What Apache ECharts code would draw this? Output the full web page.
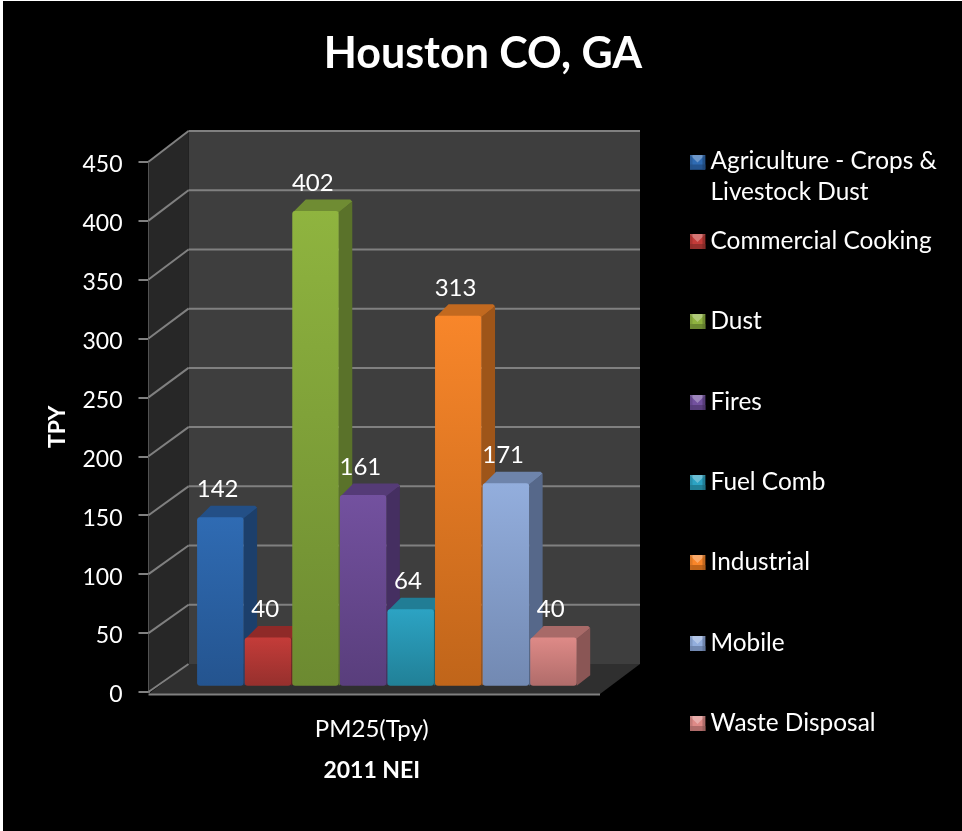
<!DOCTYPE html>
<html><head><meta charset="utf-8">
<script src="https://cdn.jsdelivr.net/npm/echarts@6/dist/echarts.min.js"></script>
<style>
html,body{margin:0;padding:0;background:#fff;width:962px;height:831px;overflow:hidden}
#bg{position:absolute;left:3px;top:1px;right:0;bottom:0;background:#000}
#c{position:absolute;left:0;top:0;width:962px;height:831px}
</style></head><body><div id="bg"></div><div id="c"></div>
<script>
const titleText = 'Houston CO, GA';
const categories = ['PM25(Tpy)'];
const seriesNames = ['Agriculture - Crops & Livestock Dust','Commercial Cooking','Dust','Fires','Fuel Comb','Industrial','Mobile','Waste Disposal'];
const seriesValues = [142,40,402,161,64,313,171,40];
const legendLabels = ['Agriculture - Crops &\nLivestock Dust','Commercial Cooking','Dust','Fires','Fuel Comb','Industrial','Mobile','Waste Disposal'];
const legendTops = [146,226,306,387,467,547,628,708];
// [front top, front bottom, top face, side face]
const barColors = [
 ['#2f6bb3','#24548f','#234f86','#1c3f6b'],
 ['#c43c39','#96302d','#8f2a28','#742422'],
 ['#8fb43f','#6c8a31','#6f8c33','#5a722a'],
 ['#73519f','#593e7c','#553b77','#452f61'],
 ['#2ca3c3','#218097','#217d95','#1b6578'],
 ['#f8862a','#c0651a','#c2691f','#9e5519'],
 ['#93aedd','#7289b2','#6e84ab','#56688a'],
 ['#de8a87','#b06c6a','#a86a68','#8a5655']
];
const FONT = 'Lato';
const DX = 13.5, DY = 11.5, BASE_DX = 13.2, BASE_DY = 6.3, BAR_PITCH = 0.1054, BAR_W = 46.5;
const WALL_DX = 40, WALL_DY0 = 28, WALL_DY1 = 30.7;
const yTicks = [0,50,100,150,200,250,300,350,400,450];

function legendIcon(c, tall){
  const h = tall ? 45 : 15;
  const svg = `<svg xmlns="http://www.w3.org/2000/svg" width="16" height="${h}"><rect x="0" y="0" width="16" height="15" fill="${c[0]}"/><polygon points="0,15 16,15 16,10 0,10" fill="${c[1]}"/><polygon points="0,0 16,0 8,8" fill="#ffffff" opacity="0.3"/><polygon points="0,0 3,0 3,15 0,15" fill="${c[2]}" opacity="0.5"/><polygon points="13,0 16,0 16,15 13,15" fill="${c[3]}" opacity="0.6"/></svg>`;
  return 'image://data:image/svg+xml;charset=utf-8,' + encodeURIComponent(svg);
}

function renderWalls(params, api){
  const cs = params.coordSys, max = 450;
  const children = [];
  const L = cs.x, R = cs.x + cs.width, T = cs.y, B = cs.y + cs.height;
  children.push({type:'polygon',shape:{points:[[L+WALL_DX,T-WALL_DY1],[R+WALL_DX,T-WALL_DY1],[R+WALL_DX,B-WALL_DY0],[L+WALL_DX,B-WALL_DY0]]},style:{fill:'#3e3e3e'}});
  children.push({type:'polygon',shape:{points:[[L,T],[L+WALL_DX,T-WALL_DY1],[L+WALL_DX,B-WALL_DY0],[L,B]]},style:{fill:'#272727'}});
  children.push({type:'polygon',shape:{points:[[L,B+2],[L+WALL_DX,B-WALL_DY0],[R+WALL_DX,B-WALL_DY0],[R,B+2]]},style:{fill:'#2f2f2f'}});
  yTicks.forEach(v=>{
    const y = api.coord([0,v])[1];
    const dy = WALL_DY0 + (WALL_DY1-WALL_DY0)*v/max;
    const st = {stroke:'#808080',lineWidth:2,fill:null};
    children.push({type:'polyline',shape:{points:[[L,y],[L+WALL_DX,y-dy]]},style:st});
    if(v>0) children.push({type:'line',shape:{x1:L+WALL_DX,y1:y-dy,x2:R+WALL_DX,y2:y-dy},style:st});
  });
  children.push({type:'line',shape:{x1:L,y1:B+2.5,x2:R,y2:B+2.5},style:{stroke:'#808080',lineWidth:2}});
  return {type:'group',children};
}

function barRenderer(i){
  return function(params, api){
    const c = barColors[i];
    const band = api.size([1,0])[0];
    const cx = api.coord([0,0])[0];
    const y0 = api.coord([0,0])[1] - BASE_DY;
    const yt = api.coord([0,api.value(1)])[1] - BASE_DY - 1;
    const xl = cx + BASE_DX + (i-4)*band*BAR_PITCH;
    const xr = xl + BAR_W;
    const grad = {type:'linear',x:0,y:0,x2:0,y2:1,colorStops:[{offset:0,color:c[0]},{offset:1,color:c[1]}]};
    return {type:'group',children:[
      {type:'polygon',shape:{points:[[xl+1,yt+1],[xl+DX,yt-DY],[xr+DX-2,yt-DY],[xr+DX,yt-DY+2],[xr,yt+2]]},style:{fill:c[2]}},
      {type:'polygon',shape:{points:[[xr,yt+1],[xr+DX,yt-DY+2],[xr+DX,y0-DY+1],[xr,y0]]},style:{fill:c[3]}},
      {type:'rect',shape:{x:xl,y:yt,width:xr-xl,height:y0-yt,r:3},style:{fill:grad}},
      {type:'text',style:{text:String(api.value(1)),x:xl+20.5,y:yt-28,fill:'#fff',font:'24px '+FONT,align:'center',verticalAlign:'middle'}}
    ]};
  };
}

const chart = echarts.init(document.getElementById('c'));
const series = [{type:'custom',name:'walls',coordinateSystem:'cartesian2d',silent:true,clip:false,data:[[0,0]],encode:{x:0,y:1},renderItem:renderWalls,z:1}];
seriesNames.forEach((n,i)=>series.push({type:'custom',name:n,coordinateSystem:'cartesian2d',silent:true,clip:false,data:[[0,seriesValues[i]]],encode:{x:0,y:1},renderItem:barRenderer(i),z:2+i}));

chart.setOption({
  animation:false,
  backgroundColor:'transparent',
  title:{text:titleText,left:478,top:28,textAlign:'center',textStyle:{color:'#fff',fontFamily:FONT,fontWeight:'bold',fontSize:43}},
  grid:{left:148.5,right:362,top:161.7,bottom:139},
  xAxis:{type:'category',data:categories,name:'2011 NEI',nameLocation:'middle',nameGap:67,
    nameTextStyle:{color:'#fff',fontFamily:FONT,fontWeight:'bold',fontSize:23,padding:[0,5,0,0]},
    axisLine:{show:false},axisTick:{show:false},
    axisLabel:{color:'#fff',fontFamily:FONT,fontSize:24,margin:25,padding:[0,5,0,0]}},
  yAxis:{type:'value',min:0,max:450,interval:50,name:'TPY',nameLocation:'middle',nameGap:79,nameRotate:90,
    nameTextStyle:{color:'#fff',fontFamily:FONT,fontWeight:'bold',fontSize:23},
    axisLine:{show:true,lineStyle:{color:'#808080',width:2}},
    axisTick:{show:true,length:10,lineStyle:{color:'#808080',width:2}},
    splitLine:{show:false},
    axisLabel:{color:'#fff',fontFamily:FONT,fontSize:23,margin:26,verticalAlign:'top',lineHeight:6}},
  legend:seriesNames.map((n,i)=>({
    data:[n],orient:'vertical',left:689.5,top:legendTops[i],padding:0,
    selectedMode:false,itemWidth:16,itemHeight:i===0?45:15,itemGap:0,
    icon:legendIcon(barColors[i],i===0),
    formatter:()=>legendLabels[i],
    textStyle:{color:'#fff',fontFamily:FONT,fontSize:24.4,lineHeight:31,padding:[0,0,0,0]}
  })),
  series
});
</script></body></html>
